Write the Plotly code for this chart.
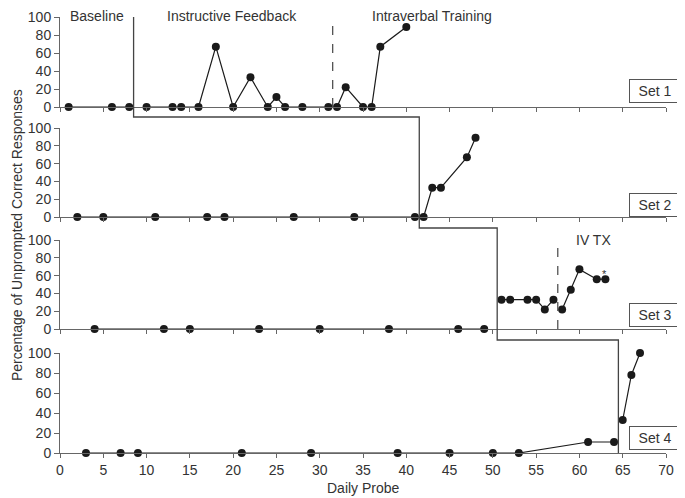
import plotly.graph_objects as go

# ---- data ----
set1_x = [1, 6, 8, 10, 13, 14, 16, 18, 20, 22, 24, 25, 26, 28, 31, 32, 33, 35, 36, 37, 40]
set1_y = [0, 0, 0, 0, 0, 0, 0, 67, 0, 33, 0, 11, 0, 0, 0, 0, 22, 0, 0, 67, 89]
set2_x = [2, 5, 11, 17, 19, 27, 34, 41, 42, 43, 44, 47, 48]
set2_y = [0, 0, 0, 0, 0, 0, 0, 0, 0, 33, 33, 67, 89]
set3_x = [4, 12, 15, 23, 30, 38, 46, 49, 51, 52, 54, 55, 56, 57, 58, 59, 60, 62, 63]
set3_y = [0, 0, 0, 0, 0, 0, 0, 0, 33, 33, 33, 33, 22, 33, 22, 44, 67, 56, 56]
set4_x = [3, 7, 9, 21, 29, 39, 45, 50, 53, 61, 64, 65, 66, 67]
set4_y = [0, 0, 0, 0, 0, 0, 0, 0, 0, 11, 11, 33, 78, 100]

set_names = ["Set 1", "Set 2", "Set 3", "Set 4"]
phase_breaks = [[8.5, 31.5], [41.5], [50.5, 57.5], [64.5]]
step_x = [8.5, 41.5, 50.5, 64.5]
y_ticks = [0, 20, 40, 60, 80, 100]
x_ticks = list(range(0, 75, 5))

series = [(set1_x, set1_y), (set2_x, set2_y), (set3_x, set3_y), (set4_x, set4_y)]

# ---- layout constants (reference-window pixels; page body has an 8px margin) ----
OFF = 8
W, H = 685 - OFF, 498 - OFF
PL, PR, PT, PB = 60, 666, 17, 453  # plot area in window pixels
ML, MR, MT, MB = PL - OFF, W - (PR - OFF), PT - OFF, H - (PB - OFF)
plot_h = PB - PT
plot_w = PR - PL
panel_px = [(17, 107), (128, 217), (240, 329), (353, 453)]  # top, bottom in window pixels


def py(p):
    return (PB - p) / plot_h


def px(p):
    return (p - PL) / plot_w


domains = [[py(b), py(t)] for t, b in panel_px]

fig = go.Figure()
txt = "#333333"
axc = "#666666"
FS = 14

for i, (xs, ys) in enumerate(series):
    bx, by = [], []
    breaks = phase_breaks[i]
    for j, (x, y) in enumerate(zip(xs, ys)):
        if j > 0 and any(xs[j - 1] < b < x for b in breaks):
            bx.append(None)
            by.append(None)
        bx.append(x)
        by.append(y)
    fig.add_trace(go.Scatter(
        x=bx, y=by, mode="lines+markers",
        line=dict(color="#1a1a1a", width=1.2),
        marker=dict(color="#1a1a1a", size=8),
        cliponaxis=False, showlegend=False,
        xaxis="x" if i == 0 else f"x{i+1}",
        yaxis="y" if i == 0 else f"y{i+1}",
        connectgaps=False,
    ))

layout = dict(
    width=W, height=H,
    margin=dict(l=ML, r=MR, t=MT, b=MB, autoexpand=False),
    plot_bgcolor="white", paper_bgcolor="white",
    font=dict(family="Liberation Sans, Arial, sans-serif", size=FS, color=txt),
    showlegend=False,
)
for i in range(4):
    xa = "xaxis" if i == 0 else f"xaxis{i+1}"
    ya = "yaxis" if i == 0 else f"yaxis{i+1}"
    layout[xa] = dict(
        range=[0, 70], domain=[0, 1], anchor="y" if i == 0 else f"y{i+1}",
        tickvals=x_ticks, showticklabels=(i == 3), ticks="outside", ticklen=4,
        tickcolor=axc, showline=True, linecolor=axc, linewidth=1,
        showgrid=False, zeroline=False, tickfont=dict(size=FS, color=txt),
        automargin=False,
    )
    layout[ya] = dict(
        range=[0, 100], domain=domains[i], anchor="x" if i == 0 else f"x{i+1}",
        tickvals=y_ticks, ticks="outside", ticklen=5, tickcolor=axc,
        showline=True, linecolor=axc, linewidth=1, showgrid=False, zeroline=False,
        tickfont=dict(size=FS, color=txt), automargin=False,
    )
fig.update_layout(**layout)

# step phase-change line
ys_step = [py(17), py(117), py(228), py(340), 0]
path = f"M {step_x[0]},{ys_step[0]} L {step_x[0]},{ys_step[1]} L {step_x[1]},{ys_step[1]} " \
       f"L {step_x[1]},{ys_step[2]} L {step_x[2]},{ys_step[2]} L {step_x[2]},{ys_step[3]} " \
       f"L {step_x[3]},{ys_step[3]} L {step_x[3]},{ys_step[4]}"
fig.add_shape(type="path", path=path, xref="x", yref="paper",
              line=dict(color="#444444", width=1.3))

# dashed lines
fig.add_shape(type="line", x0=phase_breaks[0][1], x1=phase_breaks[0][1], y0=0, y1=100,
              xref="x", yref="y", line=dict(color="#444444", width=1.2, dash="dash"))
fig.add_shape(type="line", x0=phase_breaks[2][1], x1=phase_breaks[2][1], y0=0, y1=100,
              xref="x3", yref="y3", line=dict(color="#444444", width=1.2, dash="dash"))


def ann(text, xpx, ypx, size=FS, **kw):
    fig.add_annotation(text=text, x=px(xpx), y=py(ypx),
                       xref="paper", yref="paper", showarrow=False,
                       xanchor="center", yanchor="middle",
                       font=dict(size=size, color=txt), **kw)


ann("Baseline", 97, 16)
ann("Instructive Feedback", 232, 16)
ann("Intraverbal Training", 432, 16)
ann("IV TX", 593, 240)
ann("*", 604, 274, size=11)
ann("Daily Probe", 363, 488)
ann("Percentage of Unprompted Correct Responses", 17, 235, textangle=-90)

# set labels
set_cy = [91, 205, 315, 438]
for name, cy in zip(set_names, set_cy):
    ann(name, 655, cy, bordercolor="#555555", borderwidth=1, borderpad=3,
        bgcolor="white", width=44)

fig.write_html("out.html")
